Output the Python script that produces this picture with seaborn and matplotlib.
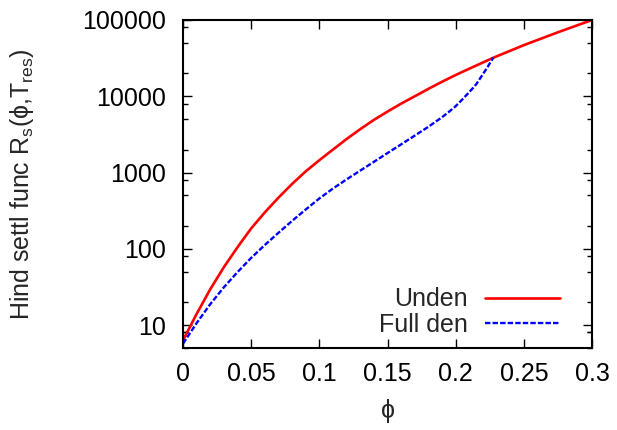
import numpy as np
import pandas as pd
import seaborn as sns
import matplotlib.pyplot as plt
from matplotlib.ticker import FixedLocator, NullLocator, NullFormatter

# Data
phi_unden = [0, 0.01, 0.02, 0.03, 0.04, 0.05, 0.06, 0.07, 0.08, 0.09,
             0.1, 0.11, 0.12, 0.13, 0.14, 0.15, 0.16, 0.17, 0.18, 0.19,
             0.2, 0.21, 0.2276, 0.25, 0.275, 0.3]
rs_unden = [6.3, 14, 29.5, 57.5, 105, 185, 300, 468, 708, 1035,
            1450, 2000, 2750, 3700, 4900, 6300, 8000, 10000, 12500, 15500,
            19000, 23000, 32000, 46800, 69000, 100000]

phi_full = [0, 0.01, 0.02, 0.03, 0.04, 0.05, 0.06, 0.07, 0.08, 0.09,
            0.1, 0.11, 0.12, 0.13, 0.14, 0.15, 0.16, 0.17, 0.18, 0.19,
            0.195, 0.2, 0.205, 0.21, 0.215, 0.22, 0.2235, 0.2258, 0.2276]
rs_full = [5.7, 10.6, 18.8, 31.3, 49.5, 76, 112, 162, 232, 327,
           457, 617, 813, 1060, 1380, 1800, 2340, 3050, 3980, 5310,
           6240, 7410, 9120, 11350, 14300, 19500, 24300, 28500, 32000]

ytick_vals = [10, 100, 1000, 10000, 100000]
xtick_vals = [0, 0.05, 0.1, 0.15, 0.2, 0.25, 0.3]

df_unden = pd.DataFrame({'phi': phi_unden, 'Rs': rs_unden})
df_full = pd.DataFrame({'phi': phi_full, 'Rs': rs_full})

sns.set_style('ticks')
plt.rcParams['font.family'] = ['Liberation Sans', 'DejaVu Sans']
plt.rcParams['mathtext.fontset'] = 'custom'
plt.rcParams['mathtext.rm'] = 'Liberation Sans'

fig = plt.figure(figsize=(6.17, 4.30), dpi=100)
ax = fig.add_axes([0.2966, 0.1907, 0.6629, 0.7628])

sns.lineplot(data=df_unden, x='phi', y='Rs', ax=ax, color='#ff0000',
             linewidth=1.9, label='Unden')
sns.lineplot(data=df_full, x='phi', y='Rs', ax=ax, color='#0000ff',
             linewidth=1.7, label='Full den')
ax.lines[1].set_dashes((2.3, 0.9))

ax.set_yscale('log')
ax.set_xlim(0, 0.3)
ax.set_ylim(5, 100000)

# gnuplot-like ticks: inward, mirrored, minor at 2, 5, 8
ax.yaxis.set_major_locator(FixedLocator(ytick_vals))
ax.set_yticklabels([str(v) for v in ytick_vals])
minor = [m * 10 ** e for e in range(0, 5) for m in (2, 5, 8)] + [8]
ax.yaxis.set_minor_locator(FixedLocator(minor))
ax.yaxis.set_minor_formatter(NullFormatter())
ax.xaxis.set_major_locator(FixedLocator(xtick_vals))
ax.set_xticklabels(['0', '0.05', '0.1', '0.15', '0.2', '0.25', '0.3'])
ax.xaxis.set_minor_locator(NullLocator())

ax.tick_params(which='both', direction='in', top=True, right=True,
               labelsize=18, colors='black')
ax.tick_params(which='major', length=6.5, width=1.0)
ax.tick_params(which='minor', length=3.3, width=1.0)
ax.tick_params(axis='y', which='major', pad=12)
ax.tick_params(axis='x', which='major', pad=10)

for s in ax.spines.values():
    s.set_visible(True)
    s.set_linewidth(1.5)
    s.set_color('black')

ax.set_xlabel('ϕ', fontsize=18)
ax.set_ylabel('Hind settl func R$_\\mathrm{s}$(ϕ,T$_\\mathrm{res}$)', fontsize=18)
ax.yaxis.set_label_coords(-0.36, 0.5)
ax.xaxis.set_label_coords(0.5, -0.155)

leg = ax.legend(loc='lower right', bbox_to_anchor=(0.922, 0.035),
                markerfirst=False, frameon=False, fontsize=18,
                handlelength=3.0, handletextpad=0.7, labelspacing=0.05,
                borderpad=0, borderaxespad=0)

fig.savefig('out.png', dpi=100)
